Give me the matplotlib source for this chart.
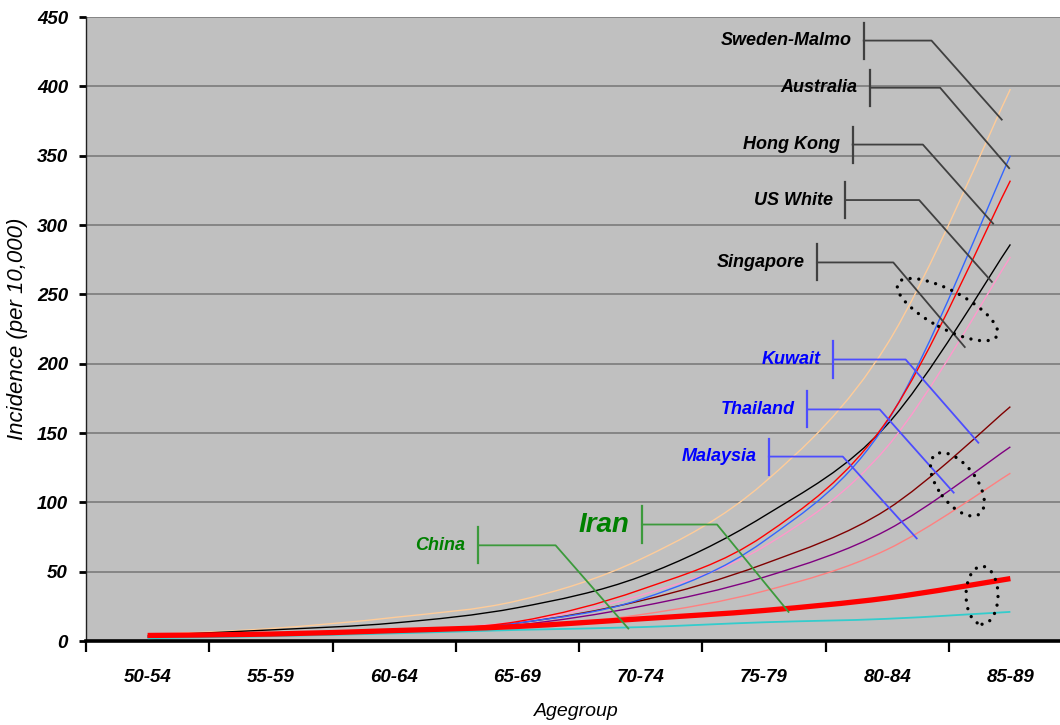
"""Incidence by age group for several populations, Excel-style callout chart."""

import numpy as np
import matplotlib
matplotlib.use("Agg")
import matplotlib.pyplot as plt
import matplotlib.transforms as mtransforms
from matplotlib.patches import Ellipse, PathPatch
from matplotlib.path import Path


AGE_GROUPS = ["50-54", "55-59", "60-64", "65-69", "70-74", "75-79", "80-84", "85-89"]

SWEDEN_MALMO = [4.5, 9, 17, 29, 59, 114, 214, 398]
AUSTRALIA = [3, 4.5, 6.5, 13, 30, 72, 158, 350]
HONG_KONG = [3, 5, 7.5, 14, 37, 76, 159, 332]
US_WHITE = [4, 8, 13, 24, 46.5, 90, 156, 286]
SINGAPORE = [3.5, 5, 8, 14, 33, 68, 140, 277]
KUWAIT = [3, 5, 7, 13, 29, 55.5, 95, 169]
THAILAND = [2.5, 4, 6, 11.5, 25, 46, 80, 140]
MALAYSIA = [2.5, 4, 6, 10, 19, 36, 66, 121]
IRAN = [4, 5, 7.5, 10.5, 16, 22, 31, 45]
CHINA = [2, 3.5, 5.5, 8, 10, 13.5, 16, 21]

Y_TICKS = [0, 50, 100, 150, 200, 250, 300, 350, 400, 450]

# name -> (values, colour, line width)
SERIES = {
    "Sweden-Malmo": (SWEDEN_MALMO, "#FFCC99", 1.0),
    "Malaysia": (MALAYSIA, "#FF8080", 1.0),
    "Thailand": (THAILAND, "#800080", 1.0),
    "Kuwait": (KUWAIT, "#800000", 1.0),
    "Singapore": (SINGAPORE, "#FF99CC", 1.0),
    "US White": (US_WHITE, "#000000", 1.0),
    "Australia": (AUSTRALIA, "#3366FF", 1.0),
    "Hong Kong": (HONG_KONG, "#FF0000", 1.0),
    "China": (CHINA, "#33CCCC", 1.3),
    "Iran": (IRAN, "#FF0000", 3.8),
}

# callouts: name, text right edge x, text y, hook end x, leader end (x, y), group
CALLOUTS = [
    ("Sweden-Malmo", 5.71, 433, 6.36, (6.93, 376), "black"),
    ("Australia", 5.76, 399, 6.43, (6.99, 341), "black"),
    ("Hong Kong", 5.62, 358, 6.29, (6.86, 301), "black"),
    ("US White", 5.56, 318, 6.26, (6.85, 259), "black"),
    ("Singapore", 5.33, 273, 6.05, (6.63, 212), "black"),
    ("Kuwait", 5.46, 203, 6.15, (6.74, 143), "blue"),
    ("Thailand", 5.25, 167, 5.94, (6.54, 107), "blue"),
    ("Malaysia", 4.94, 133, 5.64, (6.24, 74), "blue"),
    ("Iran", 3.91, 84, 4.62, (5.20, 21), "green"),
    ("China", 2.58, 69, 3.31, (3.90, 9), "green"),
]

GROUP_STYLE = {
    "black": ("#000000", "#404040"),
    "blue": ("#0000FF", "#4D4DFF"),
    "green": ("#008000", "#3C9A3C"),
}

# dotted rings: centre (x, y) in data, width/height in pixels, angle
RINGS = [
    (6.49, 239, 112, 38, -28),
    (6.57, 113, 74, 38, -53),
    (6.77, 33, 32, 58, 0),
]

LABEL_FONT = "Liberation Sans"


def smooth_path(xs, ys):
    """Excel-like smoothed line: cubic Bezier through the points."""
    pts = np.column_stack([xs, ys]).astype(float)
    n = len(pts)
    verts, codes = [pts[0]], [Path.MOVETO]
    for i in range(n - 1):
        p0 = pts[i - 1] if i > 0 else pts[i]
        p1, p2 = pts[i], pts[i + 1]
        p3 = pts[i + 2] if i + 2 < n else pts[i + 1]
        verts += [p1 + (p2 - p0) / 6, p2 - (p3 - p1) / 6, p2]
        codes += [Path.CURVE4] * 3
    return Path(verts, codes)


fig = plt.figure(figsize=(10.6, 7.25), dpi=100)
ax = fig.add_axes([86 / 1060, 84 / 725, 986 / 1060, 624 / 725])
ax.set_facecolor("#C0C0C0")

x = np.arange(len(AGE_GROUPS))
for name, (vals, color, lw) in SERIES.items():
    ax.add_patch(PathPatch(smooth_path(x, vals), fill=False, edgecolor=color,
                           lw=lw, capstyle="butt", joinstyle="round", zorder=3))

ax.set_xlim(-0.5, len(AGE_GROUPS) - 0.5)
ax.set_ylim(0, 450)

for v in Y_TICKS[1:]:
    ax.axhline(v, color="#808080", lw=1.3, zorder=1)

for name, tx, ty, hx, (ex, ey), group in CALLOUTS:
    text_color, line_color = GROUP_STYLE[group]
    size = 20 if name == "Iran" else 13
    ax.text(tx, ty, name, ha="right", va="center", color=text_color,
            fontsize=size, fontweight="bold", fontstyle="italic",
            family=LABEL_FONT, zorder=5)
    bx = tx + 0.1
    ax.plot([bx, bx], [ty - 13, ty + 13], color=line_color, lw=1.6, zorder=4)
    ax.plot([bx, hx, ex], [ty, ty, ey], color=line_color, lw=1.3, zorder=4)

for cx, cy, w, h, ang in RINGS:
    ring = Ellipse((0, 0), w, h, angle=ang, fill=False, edgecolor="black",
                   lw=2.4, linestyle=(0, (0.01, 2.6)), capstyle="round",
                   transform=mtransforms.ScaledTranslation(cx, cy, ax.transData),
                   zorder=6)
    ax.add_patch(ring)

for side in ("top", "right"):
    ax.spines[side].set_visible(False)
ax.spines["left"].set_color("#202020")
ax.spines["left"].set_linewidth(1.0)
ax.spines["bottom"].set_color("black")
ax.spines["bottom"].set_linewidth(2.6)

ax.set_yticks(Y_TICKS)
ax.set_yticklabels([str(v) for v in Y_TICKS], fontsize=13.5,
                   fontweight="bold", fontstyle="italic", family=LABEL_FONT)
ax.tick_params(axis="y", direction="out", length=5, width=2, pad=8)

ax.set_xticks(np.arange(len(AGE_GROUPS) + 1) - 0.5)
ax.set_xticklabels([])
ax.tick_params(axis="x", which="major", direction="out", length=8, width=1.6)
ax.set_xticks(x, minor=True)
ax.set_xticklabels(AGE_GROUPS, minor=True, fontsize=13.5,
                   fontweight="bold", fontstyle="italic", family=LABEL_FONT)
ax.tick_params(axis="x", which="minor", length=0, pad=20)

fig.text(18 / 1060, 1 - 329 / 725, "Incidence (per 10,000)", rotation=90,
         ha="center", va="center", fontsize=16, fontstyle="italic",
         family=LABEL_FONT)
fig.text(576 / 1060, 1 - 712 / 725, "Agegroup", ha="center", va="center",
         fontsize=14, fontstyle="italic", family=LABEL_FONT)

fig.savefig("out.png", dpi=100, facecolor="white")
